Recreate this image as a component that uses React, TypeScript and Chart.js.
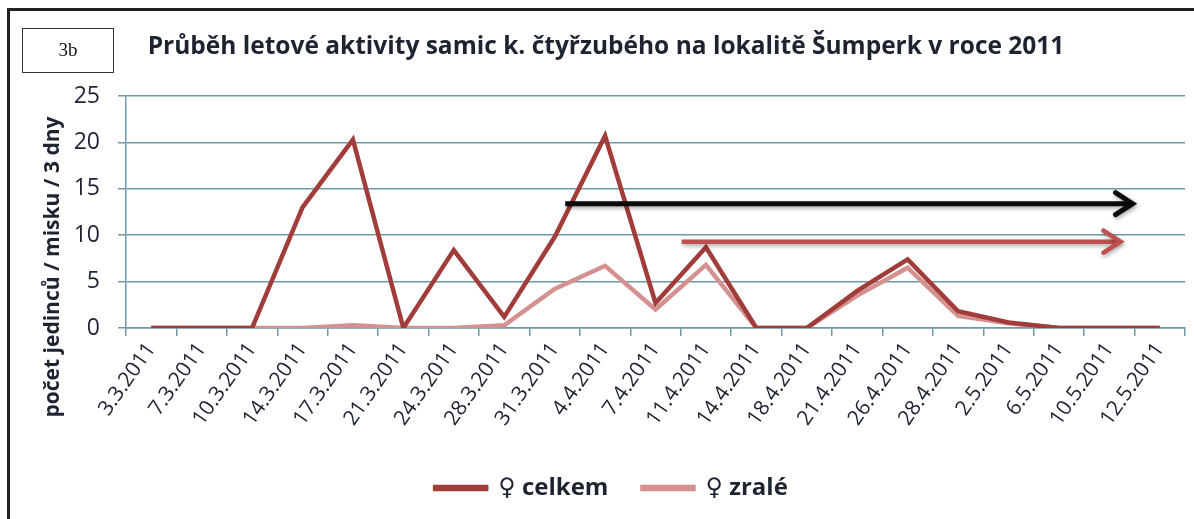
import React, { useEffect, useRef } from "react";
import { Chart, registerables } from "chart.js";

Chart.register(...registerables);

const categories = [
  "3.3.2011", "7.3.2011", "10.3.2011", "14.3.2011", "17.3.2011", "21.3.2011",
  "24.3.2011", "28.3.2011", "31.3.2011", "4.4.2011", "7.4.2011", "11.4.2011",
  "14.4.2011", "18.4.2011", "21.4.2011", "26.4.2011", "28.4.2011", "2.5.2011",
  "6.5.2011", "10.5.2011", "12.5.2011",
];

const celkem = [0, 0, 0, 13, 20.3, 0, 8.4, 1.2, 9.8, 20.7, 2.7, 8.7, 0, 0, 4.0, 7.4, 1.8, 0.6, 0, 0, 0];
const zrale = [0, 0, 0, 0, 0.3, 0, 0, 0.3, 4.2, 6.7, 2.0, 6.8, 0, 0, 3.5, 6.5, 1.3, 0.5, 0, 0, 0];

const seriesNames = ["\u2640 celkem", "\u2640 zralé"];
const yTicks = [0, 5, 10, 15, 20, 25];

const titleText = "Průběh letové aktivity samic k. čtyřzubého na lokalitě Šumperk v roce 2011";
const yTitleText = "počet jedinců / misku / 3 dny";
const panelLabel = "3b";

// annotation arrows: [startCategoryIndex, endCategoryIndex, value]
const blackArrow = [8.21, 19.46, 13.4];
const redArrow = [10.52, 19.22, 9.3];

const FONT = "'Open Sans', 'DejaVu Sans', sans-serif";
const GRID = "#6f98a8";

const decorPlugin = {
  id: "decor",
  beforeDraw(chart: any) {
    const ctx = chart.ctx;
    ctx.save();
    ctx.fillStyle = "#ffffff";
    ctx.fillRect(0, 0, chart.width, chart.height);
    ctx.restore();
  },
  afterDraw(chart: any) {
    const ctx = chart.ctx;
    const x = chart.scales.x;
    const y = chart.scales.y;
    ctx.save();
    // frame
    ctx.strokeStyle = "#222222";
    ctx.lineWidth = 3;
    ctx.strokeRect(8.5, 9.5, chart.width + 20, chart.height + 20);
    // panel label box
    ctx.lineWidth = 1;
    ctx.strokeStyle = "#333333";
    ctx.strokeRect(22.5, 28.5, 91, 44);
    ctx.fillStyle = "#111111";
    ctx.font = "19px 'Liberation Serif', 'DejaVu Serif', serif";
    ctx.textAlign = "center";
    ctx.textBaseline = "middle";
    ctx.fillText(panelLabel, 68, 51);
    // title
    ctx.font = "bold 24.5px " + FONT;
    ctx.fillStyle = "#1d2430";
    ctx.textAlign = "center";
    ctx.fillText(titleText, 606, 47);
    // y axis title
    ctx.save();
    ctx.translate(53, 267);
    ctx.rotate(-Math.PI / 2);
    ctx.font = "bold 21px " + FONT;
    ctx.fillText(yTitleText, 0, 0);
    ctx.restore();

    // arrows
    const drawArrow = (a: number[], color: string, width: number) => {
      const x0 = x.getPixelForValue(a[0]);
      const x1 = x.getPixelForValue(a[1]);
      const yy = y.getPixelForValue(a[2]);
      ctx.save();
      ctx.shadowColor = "rgba(0,0,0,0.35)";
      ctx.shadowBlur = 4;
      ctx.shadowOffsetX = 1;
      ctx.shadowOffsetY = 2;
      ctx.strokeStyle = color;
      ctx.fillStyle = color;
      ctx.lineWidth = width;
      ctx.lineCap = "butt";
      ctx.beginPath();
      ctx.moveTo(x0, yy);
      ctx.lineTo(x1 - 3, yy);
      ctx.stroke();
      ctx.lineJoin = "miter";
      ctx.lineCap = "round";
      ctx.beginPath();
      ctx.moveTo(x1 - 17, yy - 11);
      ctx.lineTo(x1, yy);
      ctx.lineTo(x1 - 17, yy + 11);
      ctx.stroke();
      ctx.restore();
    };
    drawArrow(blackArrow, "#0a0a0a", 5);
    drawArrow(redArrow, "#c0504d", 4.5);
    ctx.restore();
  },
};

export default function App() {
  const ref = useRef<HTMLCanvasElement | null>(null);
  useEffect(() => {
    if (!ref.current) return;
    const chart = new Chart(ref.current, {
      type: "line",
      data: {
        labels: categories,
        datasets: [
          {
            label: seriesNames[0],
            data: celkem,
            borderColor: "#a03c3a",
            backgroundColor: "#a03c3a",
            borderWidth: 4.5,
            pointRadius: 0,
            tension: 0,
            order: 1,
          },
          {
            label: seriesNames[1],
            data: zrale,
            borderColor: "#d59090",
            backgroundColor: "#d59090",
            borderWidth: 4.5,
            pointRadius: 0,
            tension: 0,
            order: 2,
          },
        ],
      },
      options: {
        animation: false,
        responsive: false,
        maintainAspectRatio: false,
        layout: { padding: { left: 38, right: 9, top: 96, bottom: 9 } },
        plugins: {
          title: { display: false },
          tooltip: { enabled: false },
          legend: {
            display: true,
            position: "bottom",
            labels: {
              boxWidth: 51,
              boxHeight: 2,
              padding: 34,
              color: "#1d2430",
              font: { family: FONT, size: 24, weight: "bold" },
            },
          },
        },
        scales: {
          x: {
            type: "category",
            offset: true,
            afterFit: (s: any) => { s.height = 114; },
            grid: {
              display: true,
              offset: true,
              drawOnChartArea: false,
              drawTicks: true,
              tickLength: 8,
              color: GRID,
              lineWidth: 1.5,
            },
            border: { display: true, color: GRID, width: 1.5 },
            ticks: {
              autoSkip: false,
              maxRotation: 55,
              minRotation: 55,
              padding: 2,
              color: "#1d2430",
              font: { family: FONT, size: 21 },
            },
          },
          y: {
            min: 0,
            max: 25,
            afterFit: (s: any) => { s.width = 88; },
            afterBuildTicks: (s: any) => { s.ticks = yTicks.map((v) => ({ value: v })); },
            grid: {
              color: GRID,
              lineWidth: 1.5,
              drawTicks: true,
              tickLength: 8,
            },
            border: { display: true, color: GRID, width: 1.5 },
            ticks: {
              padding: 18,
              color: "#1d2430",
              font: { family: FONT, size: 23 },
            },
          },
        },
      },
      plugins: [decorPlugin],
    });
    return () => chart.destroy();
  }, []);
  return (
    <div style={{ position: "absolute", left: 0, top: 0, width: 1194, height: 519 }}>
      <canvas ref={ref} width={1194} height={519} style={{ width: 1194, height: 519, display: "block" }} />
    </div>
  );
}
